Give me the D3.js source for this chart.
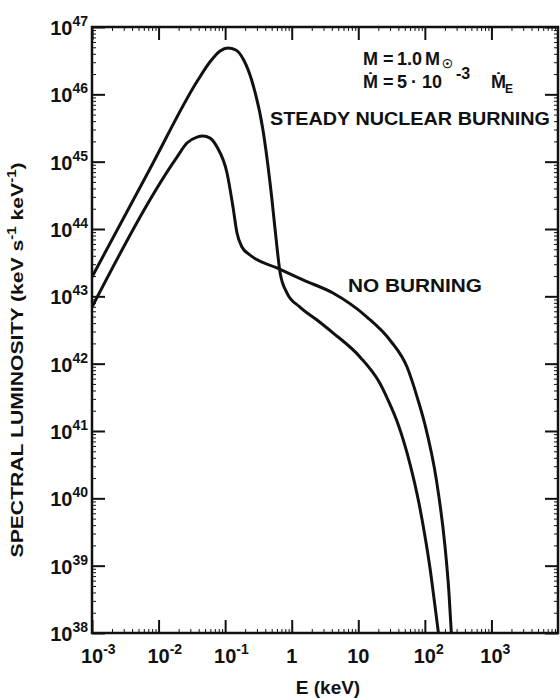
<!DOCTYPE html>
<html><head><meta charset="utf-8">
<script src="https://cdn.jsdelivr.net/npm/d3@7"></script>
<style>
body{margin:0;background:#fff}
text{font-family:"Liberation Sans",Arial,sans-serif;font-weight:bold;fill:#111}
</style>
</head><body>
<svg id="c" width="560" height="698"></svg>
<script>
// ---- data ----
const steadyE = [0.001,0.0074,0.039,0.059,0.084,0.11,0.145,0.19,0.25,0.37,0.5,0.6,0.67,0.85,1.33,2.4,4.2,10.6,21,28,40,60,80,100,120,140,160];
const steadyL = [1.94e43,7.78e44,1.63e46,3.02e46,4.41e46,4.88e46,4.55e46,3.24e46,1.63e46,2.95e45,2.99e44,5.41e43,2.22e43,1.12e43,6.93e42,4.45e42,2.85e42,1.26e42,5.16e41,2.88e41,1.23e41,3.2e40,9.3e39,2.8e39,8.9e38,2.8e38,1.0e38];
const noBurnE = [0.001,0.0189,0.0267,0.0378,0.0465,0.0593,0.0755,0.1067,0.1312,0.1507,0.179,0.236,0.601,1.479,4.169,13.5,29.9,54,79,100,150,200,230,250];
const noBurnL = [6.93e42,1.17e45,1.89e45,2.32e45,2.40e45,2.24e45,1.65e45,6.79e44,2.12e44,8.71e43,5.41e43,4.11e43,2.64e43,1.75e43,1.12e43,4.93e42,2.24e42,8.91e41,2.88e41,1.26e41,1.8e40,2.0e39,4.0e38,1.0e38];
const xTicks = [1e-3,1e-2,1e-1,1,10,100,1000];
const xTickBase = ["10","10","10","1","10","10","10"];
const xTickExp = ["-3","-2","-1","","","2","3"];
const yTicks = [1e38,1e39,1e40,1e41,1e42,1e43,1e44,1e45,1e46,1e47];
const yTickExp = ["38","39","40","41","42","43","44","45","46","47"];

const svg = d3.select("#c");
const L=92,R=558,T=27,B=633;
const x = d3.scaleLog().domain([1e-3,1e4]).range([L,R]);
const y = d3.scaleLog().domain([1e38,1e47]).range([B,T]);

const minorX=[],minorY=[];
for(let k=-3;k<4;k++) for(let m=2;m<10;m++) minorX.push(m*Math.pow(10,k));
for(let k=38;k<47;k++) for(let m=2;m<10;m++) minorY.push(m*Math.pow(10,k));

function ticks(axis, tr, vals, size, sw){
  const g = svg.append("g").attr("transform",tr)
    .call(axis.tickValues(vals).tickSize(size).tickFormat(""));
  g.select(".domain").remove();
  g.selectAll("line").attr("stroke","#111").attr("stroke-width",sw);
}
ticks(d3.axisBottom(x),`translate(0,${B})`,xTicks,-13,2);
ticks(d3.axisTop(x),`translate(0,${T})`,xTicks,-13,2);
ticks(d3.axisLeft(y),`translate(${L},0)`,yTicks,-13,2);
ticks(d3.axisRight(y),`translate(${R},0)`,yTicks,-13,2);
ticks(d3.axisBottom(x),`translate(0,${B})`,minorX,-4,1);
ticks(d3.axisTop(x),`translate(0,${T})`,minorX,-4,1);
ticks(d3.axisLeft(y),`translate(${L},0)`,minorY,-4,1);
ticks(d3.axisRight(y),`translate(${R},0)`,minorY,-4,1);

svg.append("rect").attr("x",L).attr("y",T).attr("width",R-L).attr("height",B-T)
  .attr("fill","none").attr("stroke","#111").attr("stroke-width",2.5);

svg.append("clipPath").attr("id","clip").append("rect")
  .attr("x",L).attr("y",T).attr("width",R-L).attr("height",B-T);

const line = d3.line().x(d=>x(d[0])).y(d=>y(d[1])).curve(d3.curveMonotoneX);
[[steadyE,steadyL],[noBurnE,noBurnL]].forEach(([E,Lv])=>{
  svg.append("path").attr("clip-path","url(#clip)")
    .attr("d",line(E.map((e,i)=>[e,Lv[i]])))
    .attr("fill","none").attr("stroke","#111").attr("stroke-width",3)
    .attr("stroke-linejoin","round");
});

// x tick labels
xTicks.forEach((v,i)=>{
  const t = svg.append("text").attr("font-size",20).attr("y",663);
  t.append("tspan").text(xTickBase[i]);
  t.attr("x",x(v));
  const w = t.node().getComputedTextLength();
  t.attr("x",x(v)-w/2);
  if(xTickExp[i]) t.append("tspan").attr("dy",-9).attr("font-size",14).text(xTickExp[i]);
});
// y tick labels
yTicks.forEach((v,i)=>{
  const t = svg.append("text").attr("font-size",20).attr("x",88).attr("y",y(v)+8)
    .attr("text-anchor","end");
  t.append("tspan").text("10");
  t.append("tspan").attr("dy",-9).attr("font-size",14).text(yTickExp[i]);
});

svg.append("text").attr("x",328).attr("y",694).attr("text-anchor","middle")
  .attr("font-size",19).text("E (keV)");

const yt = svg.append("text").attr("transform","translate(23,360) rotate(-90)")
  .attr("text-anchor","middle").attr("font-size",17)
  .attr("textLength",395).attr("lengthAdjust","spacingAndGlyphs");
yt.append("tspan").text("SPECTRAL LUMINOSITY (keV s");
yt.append("tspan").attr("dy",-7).attr("font-size",12).text("-1");
yt.append("tspan").attr("dy",7).text(" keV");
yt.append("tspan").attr("dy",-7).attr("font-size",12).text("-1");
yt.append("tspan").attr("dy",7).text(")");

// annotations
const a1 = svg.append("text").attr("y",65).attr("font-size",18);
a1.append("tspan").attr("x",363).text("M");
a1.append("tspan").attr("x",383).text("=");
a1.append("tspan").attr("x",397).text("1.0");
a1.append("tspan").attr("x",425).text("M");
a1.append("tspan").attr("x",442).attr("dy",3).attr("font-size",12).text("\u2609");
const a2 = svg.append("text").attr("y",88).attr("font-size",18);
a2.append("tspan").attr("x",363).text("\u1E40");
a2.append("tspan").attr("x",383).text("=");
a2.append("tspan").attr("x",397).text("5");
a2.append("tspan").attr("x",411).text("\u00B7");
a2.append("tspan").attr("x",422).text("10");
a2.append("tspan").attr("x",456).attr("dy",-9).attr("font-size",16).text("-3");
a2.append("tspan").attr("x",491).attr("dy",9).text("\u1E40");
a2.append("tspan").attr("x",505).attr("dy",5).attr("font-size",12).text("E");

svg.append("text").attr("x",270).attr("y",125).attr("font-size",19)
  .attr("textLength",280).attr("lengthAdjust","spacingAndGlyphs")
  .text("STEADY NUCLEAR BURNING");
svg.append("text").attr("x",348).attr("y",292).attr("font-size",19)
  .attr("textLength",134).attr("lengthAdjust","spacingAndGlyphs")
  .text("NO BURNING");
</script>
</body></html>
